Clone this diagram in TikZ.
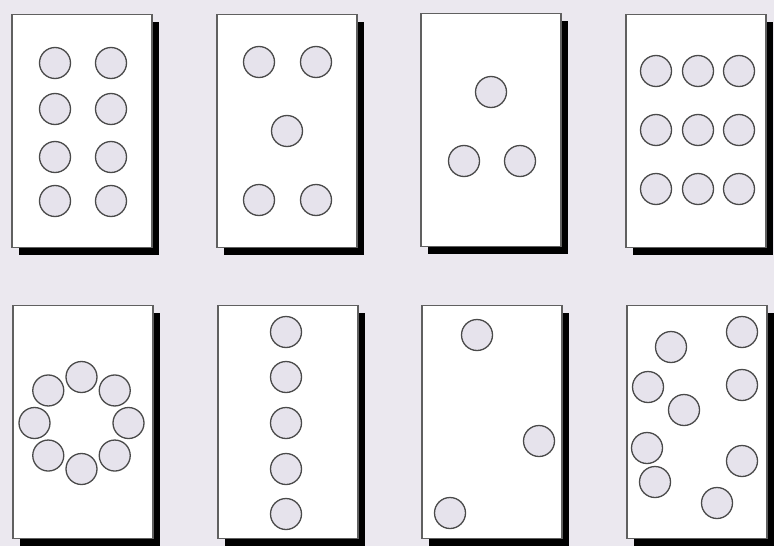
\documentclass[tikz,border=0pt]{standalone}
\usepackage{xcolor}
\usepackage{tikz}
\usetikzlibrary{shadows,calc}

\definecolor{pagebg}{HTML}{EBE8EF}
\definecolor{dotfill}{HTML}{E6E3EC}
\definecolor{dotline}{HTML}{4A4A4A}
\definecolor{cardline}{HTML}{606060}

\begin{document}
\begin{tikzpicture}[x=1pt,y=-1pt,
    card/.style={draw=cardline,line width=1.6pt,fill=white,
      minimum width=140pt,minimum height=233pt,inner sep=0pt,
      drop shadow={shadow xshift=7pt,shadow yshift=-7pt,fill=black,opacity=1}},
    dot/.style={circle,draw=dotline,line width=1.3pt,fill=dotfill,
      minimum size=31pt,inner sep=0pt}
  ]
    \fill[pagebg] (0,0) rectangle (774,546);
    \useasboundingbox (0,0) rectangle (774,546);

    % top row
    \node[card] (eight) at (82,131) {};
    \node[card] (five) at (287,131) {};
    \node[card] (three) at (491,130) {};
    \node[card] (nine) at (696,131) {};

    % bottom row
    \node[card] (ring) at (83,422) {};
    \node[card] (column) at (288,422) {};
    \node[card] (sparse) at (492,422) {};
    \node[card] (scatter) at (697,422) {};

    \foreach \x/\y [count=\i] in {55/63,111/63,55/109,111/109,
                                  55/157,111/157,55/201,111/201} {
      \node[dot] (eight-\i) at (\x,\y) {};
    }

    \foreach \x/\y [count=\i] in {259/62,316/62,287/131,259/200,316/200} {
      \node[dot] (five-\i) at (\x,\y) {};
    }

    \foreach \x/\y [count=\i] in {491/92,464/161,520/161} {
      \node[dot] (three-\i) at (\x,\y) {};
    }

    \foreach \x/\y [count=\i] in {656/71,698/71,739/71,656/130,698/130,
                                  739/130,656/189,698/189,739/189} {
      \node[dot] (nine-\i) at (\x,\y) {};
    }

    \coordinate (ringmid) at (81.5,423);
    \foreach \a [count=\i] in {90,45,0,-45,-90,-135,180,135} {
      \node[dot] (ring-\i) at ($(ringmid)+(\a:47 and 46)$) {};
    }

    \foreach \y [count=\i] in {332,377,423,469,514} {
      \node[dot] (column-\i) at (286,\y) {};
    }

    \foreach \x/\y [count=\i] in {477/335,539/441,450/513} {
      \node[dot] (sparse-\i) at (\x,\y) {};
    }

    \foreach \x/\y [count=\i] in {671/347,742/332,648/387,742/385,684/410,
                                  647/448,742/461,655/482,717/503} {
      \node[dot] (scatter-\i) at (\x,\y) {};
    }
  \end{tikzpicture}
\end{document}
